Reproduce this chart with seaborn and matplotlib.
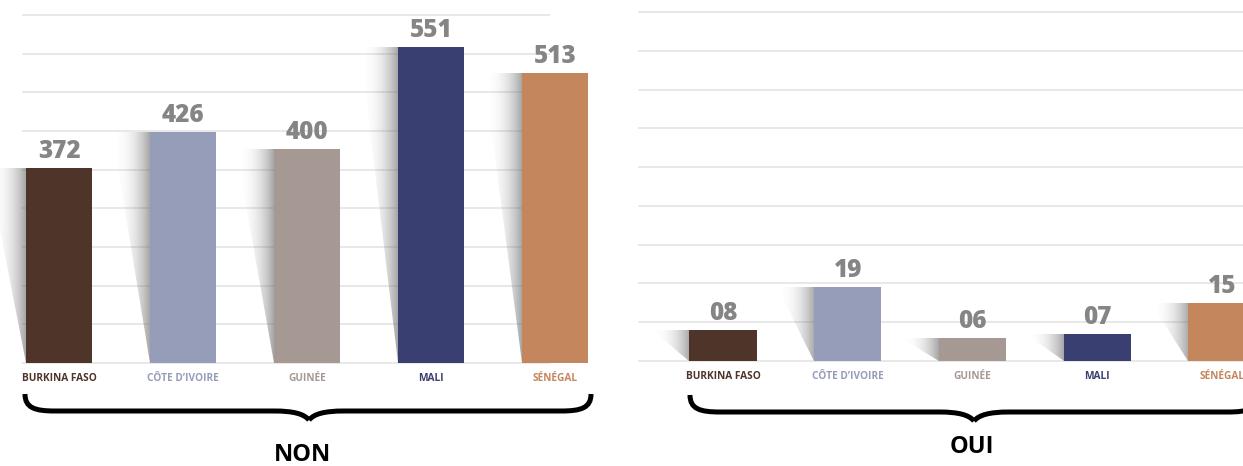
import numpy as np
import matplotlib
matplotlib.use("Agg")
import matplotlib.pyplot as plt
import seaborn as sns
from matplotlib.path import Path
from matplotlib.patches import PathPatch, Polygon

# ---- data ----
categories = ["BURKINA FASO", "CÔTE D’IVOIRE", "GUINÉE", "MALI", "SÉNÉGAL"]
non_values = [372, 426, 400, 551, 513]
oui_values = [8, 19, 6, 7, 15]
colors = ["#4f342a", "#959db9", "#a69892", "#393f70", "#c4865d"]
group_labels = ["NON", "OUI"]

sns.set_theme(style="white")
plt.rcParams["font.family"] = ["Open Sans", "DejaVu Sans"]

W, H = 1243, 466
fig = plt.figure(figsize=(W / 100, H / 100), dpi=100)
fig.patch.set_facecolor("white")


def px_axes(x0, x1, ybot, ytop):
    return fig.add_axes([x0 / W, (H - ybot) / H, (x1 - x0) / W, (ybot - ytop) / H])


def shadow(ax, left, top, bottom, width):
    grad = np.zeros((2, 96, 4))
    grad[..., :3] = 0.42
    grad[..., 3] = 0.6 * np.linspace(0.0, 1.0, 96) ** 2.4
    im = ax.imshow(grad, extent=[left - width, left, bottom, top], aspect="auto",
                   zorder=1, interpolation="bilinear", origin="lower")
    tri = Polygon([(left - width, top), (left, top), (left, bottom)],
                  closed=True, transform=ax.transData, facecolor="none", edgecolor="none")
    ax.add_patch(tri)
    tri.set_visible(False)
    im.set_clip_path(tri)


def panel(ax, values, ylim, grid_vals, grid_x, fmt, xlim):
    sns.barplot(x=categories, y=values, hue=categories, palette=colors, width=0.54,
                saturation=1, legend=False, ax=ax, zorder=2, linewidth=0)
    ax.hlines(grid_vals, grid_x[0], grid_x[1], color="#e2e2e2", lw=1.1, zorder=0, clip_on=False)
    for i, v in enumerate(values):
        shadow(ax, i - 0.27, v, ylim[0], 0.3)
        ax.annotate(fmt(v), (i, v), xytext=(0, 3), textcoords="offset points",
                    ha="center", va="bottom", fontsize=17.5, fontweight=800,
                    color="#858585", annotation_clip=False)
    ax.set_xlim(*xlim)
    ax.set_ylim(*ylim)
    ax.set_yticks([])
    ax.set_xticks(range(len(categories)))
    ax.set_xticklabels(categories, fontsize=7.3, fontweight="bold")
    for lab, c in zip(ax.get_xticklabels(), colors):
        lab.set_color(c)
    ax.tick_params(axis="x", length=0, pad=7)
    for s in ax.spines.values():
        s.set_visible(False)
    ax.set_facecolor("none")
    ax.set_xlabel("")
    ax.set_ylabel("")


# left panel (NON)
axL = px_axes(0, 600, 363, 15)
ybL = (85.5, 598)
panel(axL, non_values, ybL, np.linspace(ybL[0], ybL[1], 10), (-0.298, 3.96),
      lambda v: f"{v}", (-0.476, 4.363))

# right panel (OUI)
axR = px_axes(638, 1243, 361, 12)
panel(axR, oui_values, (0, 90), np.arange(0, 91, 10), (-0.681, 4.168),
      lambda v: f"{v:02d}", (-0.681, 4.168))

# overlay for braces and group labels
ov = fig.add_axes([0, 0, 1, 1], zorder=10)
ov.set_xlim(0, W)
ov.set_ylim(H, 0)
ov.axis("off")
ov.patch.set_alpha(0)


def brace(x0, x1, mid, ytop, yline, ytip):
    for a, b, s in ((x0, mid, 1), (x1, mid, -1)):
        verts = [(a, ytop),
                 (a, yline - 3), (a + s * 10, yline), (a + s * 30, yline),
                 (b - s * 35, yline),
                 (b - s * 15, yline), (b - s * 5, yline + 3), (b, ytip)]
        codes = [Path.MOVETO, Path.CURVE4, Path.CURVE4, Path.CURVE4, Path.LINETO,
                 Path.CURVE4, Path.CURVE4, Path.CURVE4]
        ov.add_patch(PathPatch(Path(verts, codes), facecolor="none", edgecolor="black",
                               lw=3.6, capstyle="butt", joinstyle="round"))


brace(25, 591, 309, 394, 411, 420)
brace(690, 1258, 974, 395, 412, 421)
ov.text(303, 455, group_labels[0], ha="center", va="center", fontsize=17,
        fontweight="bold", color="black")
ov.text(972, 447, group_labels[1], ha="center", va="center", fontsize=17,
        fontweight="bold", color="black")

fig.savefig("out.png", dpi=100, facecolor="white")
